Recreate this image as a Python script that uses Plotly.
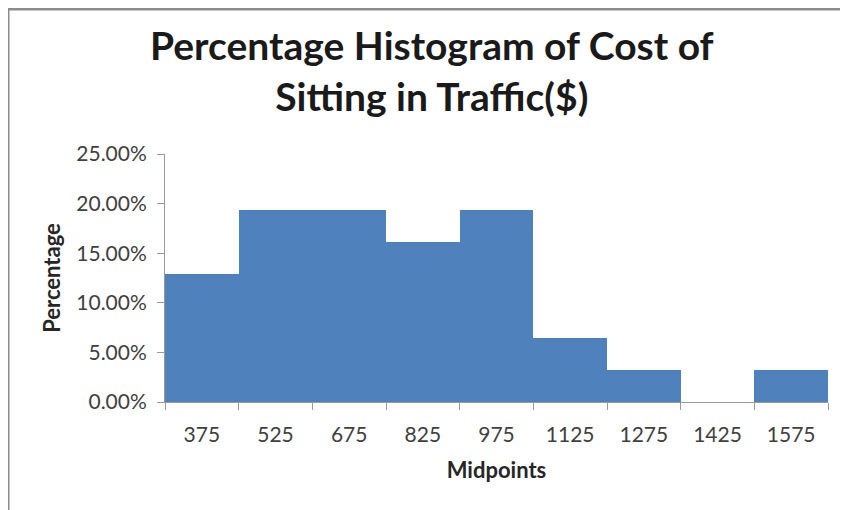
import plotly.graph_objects as go

midpoints = ['375', '525', '675', '825', '975', '1125', '1275', '1425', '1575']
percentages = [0.1290, 0.1935, 0.1935, 0.1613, 0.1935, 0.0645, 0.0323, 0.0, 0.0323]

font_family = "Lato, 'Open Sans', sans-serif"

# page body adds 8px offset, so the plot area 165..828 x 154..402 on screen
# sits at 157..820 x 146..394 inside the figure
L, T, R, B = 157, 146, 28, 116
PW, PH = 848 - L - R, 510 - T - B

fig = go.Figure(go.Bar(
    x=midpoints,
    y=percentages,
    marker=dict(color='#4F81BD', line=dict(width=0)),
))

fig.update_layout(
    width=848,
    height=510,
    paper_bgcolor='white',
    plot_bgcolor='white',
    margin=dict(l=L, r=R, t=T, b=B),
    bargap=0,
    showlegend=False,
    font=dict(family=font_family, color='#404040'),
    xaxis=dict(
        type='category',
        tickson='boundaries',
        ticks='outside',
        ticklen=7,
        tickcolor='#999999',
        ticklabelstandoff=14,
        showline=True,
        linecolor='#999999',
        showgrid=False,
        automargin=False,
        tickfont=dict(size=21, color='#404040'),
        title=dict(text='Midpoints', standoff=17,
                   font=dict(size=22, color='#262626', weight='bold')),
    ),
    yaxis=dict(
        range=[0, 0.25],
        dtick=0.05,
        tickformat='.2%',
        ticks='outside',
        ticklen=7,
        tickcolor='#999999',
        ticklabelstandoff=6,
        showline=True,
        linecolor='#999999',
        showgrid=False,
        zeroline=False,
        automargin=False,
        tickfont=dict(size=21, color='#404040'),
        title=dict(text='Percentage', standoff=9,
                   font=dict(size=22, color='#262626', weight='bold')),
    ),
)

# title as annotation
fig.add_annotation(
    text='Percentage Histogram of Cost of<br>Sitting in Traffic($)',
    xref='paper', yref='paper',
    x=(424 - L) / PW, y=1 + (T - 12) / PH,
    xanchor='center', yanchor='top',
    showarrow=False,
    font=dict(size=39, color='#1a1a1a', family=font_family, weight='bold'),
)

# chart frame lines (top and left)
fig.add_shape(type='line', xref='paper', yref='paper',
              x0=-L / PW, x1=1 + R / PW, y0=1 + (T - 1) / PH, y1=1 + (T - 1) / PH,
              line=dict(color='#8c8c8c', width=3))
fig.add_shape(type='line', xref='paper', yref='paper',
              x0=-(L - 0.5) / PW, x1=-(L - 0.5) / PW, y0=-B / PH, y1=1 + T / PH,
              line=dict(color='#8c8c8c', width=2))

fig.write_html("out.html")
